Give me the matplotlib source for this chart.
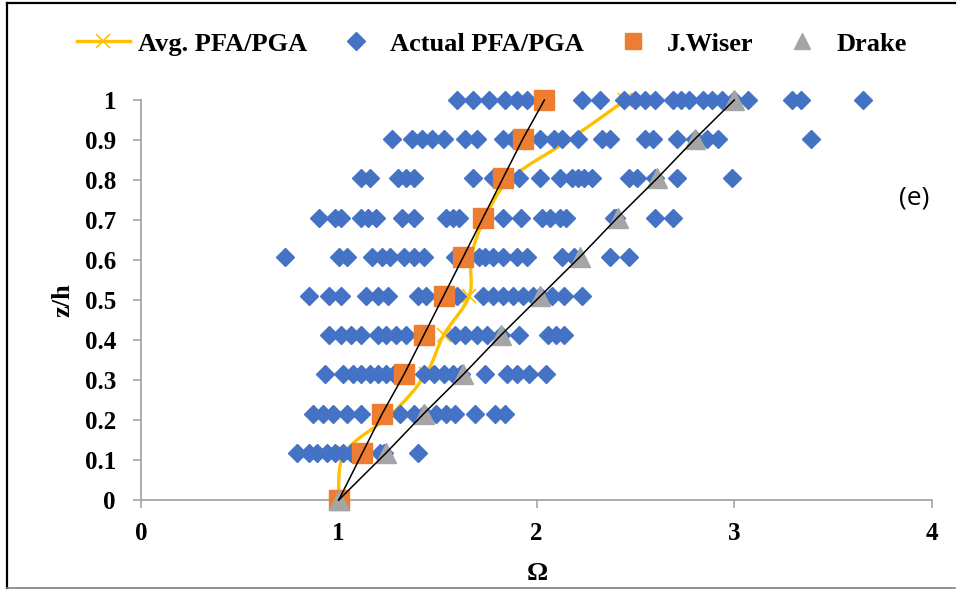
import matplotlib
matplotlib.use("Agg")
import matplotlib.pyplot as plt
from matplotlib.lines import Line2D
from matplotlib.path import Path
from matplotlib.patches import PathPatch
import numpy as np

# storey levels z/h
z = [0.0, 0.118, 0.216, 0.314, 0.412, 0.51, 0.608, 0.706, 0.804, 0.902, 1.0]

avg = [1.0, 1.03, 1.27, 1.44, 1.53, 1.66, 1.67, 1.74, 1.87, 2.17, 2.45]
wiser = [1.0, 1.12, 1.22, 1.33, 1.43, 1.53, 1.63, 1.73, 1.83, 1.93, 2.04]
drake = [1.0, 1.24, 1.43, 1.63, 1.82, 2.02, 2.22, 2.41, 2.61, 2.80, 3.0]

# actual PFA/PGA per level
actual = {
    0.0: [1.0],
    0.118: [0.79, 0.85, 0.89, 0.94, 0.98, 1.02, 1.06, 1.11, 1.21, 1.23, 1.40],
    0.216: [0.87, 0.92, 0.97, 1.04, 1.11, 1.22, 1.31, 1.38, 1.43, 1.49, 1.54,
            1.59, 1.69, 1.79, 1.84],
    0.314: [0.93, 1.02, 1.07, 1.11, 1.16, 1.20, 1.24, 1.28, 1.32, 1.43, 1.48,
            1.53, 1.58, 1.62, 1.74, 1.85, 1.90, 1.96, 2.05],
    0.412: [0.95, 1.01, 1.06, 1.11, 1.20, 1.24, 1.29, 1.34, 1.43, 1.59, 1.64,
            1.70, 1.75, 1.82, 1.91, 2.06, 2.10, 2.14],
    0.51: [0.85, 0.95, 1.01, 1.14, 1.20, 1.25, 1.40, 1.44, 1.53, 1.60, 1.73,
           1.78, 1.83, 1.88, 1.93, 1.98, 2.02, 2.08, 2.14, 2.23],
    0.608: [0.73, 1.0, 1.04, 1.17, 1.22, 1.26, 1.33, 1.38, 1.43, 1.59, 1.63,
            1.71, 1.74, 1.78, 1.83, 1.90, 1.95, 2.13, 2.19, 2.37, 2.47],
    0.706: [0.90, 0.98, 1.01, 1.11, 1.15, 1.19, 1.32, 1.38, 1.54, 1.58, 1.61,
            1.73, 1.83, 1.92, 2.03, 2.07, 2.12, 2.15, 2.39, 2.40, 2.60, 2.69],
    0.804: [1.11, 1.16, 1.30, 1.34, 1.38, 1.68, 1.78, 1.83, 1.91, 2.02, 2.12,
            2.18, 2.21, 2.24, 2.28, 2.47, 2.51, 2.60, 2.71, 2.99],
    0.902: [1.27, 1.37, 1.42, 1.47, 1.53, 1.64, 1.70, 1.83, 1.88, 2.02, 2.09,
            2.13, 2.21, 2.33, 2.37, 2.55, 2.59, 2.71, 2.80, 2.86, 2.92, 3.39],
    1.0: [1.60, 1.68, 1.76, 1.84, 1.90, 1.95, 2.03, 2.23, 2.32, 2.44, 2.50,
          2.55, 2.60, 2.69, 2.73, 2.77, 2.84, 2.89, 2.94, 3.0, 3.07, 3.29,
          3.34, 3.65],
}

x_ticks = [0, 1, 2, 3, 4]
y_ticks = [0, 0.1, 0.2, 0.3, 0.4, 0.5, 0.6, 0.7, 0.8, 0.9, 1.0]

c_avg = "#FFC000"
c_act = "#4472C4"
c_wis = "#ED7D31"
c_dra = "#A5A5A5"
c_axis = "#A6A6A6"

plt.rcParams["font.family"] = ["Liberation Serif", "DejaVu Serif"]
plt.rcParams["font.weight"] = "bold"

fig = plt.figure(figsize=(9.57, 5.9), dpi=100)
ax = fig.add_axes([141 / 957, 90 / 590, 791 / 957, 400 / 590])

# smoothed average line (bezier through the points, like Excel's smooth line)
P = np.column_stack([avg, z])
verts = [P[0]]
codes = [Path.MOVETO]
n = len(P)
for i in range(n - 1):
    p0 = P[i - 1] if i > 0 else P[i]
    p3 = P[i + 2] if i + 2 < n else P[i + 1]
    c1 = P[i] + (P[i + 1] - p0) / 6.0
    c2 = P[i + 1] - (p3 - P[i]) / 6.0
    verts += [c1, c2, P[i + 1]]
    codes += [Path.CURVE4] * 3
ax.add_patch(PathPatch(Path(verts, codes), facecolor="none", edgecolor=c_avg,
                       lw=2.4, zorder=2))
ax.plot(avg, z, ls="none", marker="x", ms=10, mew=1.2, color=c_avg, zorder=2)

xs, ys = [], []
for lev, vals in actual.items():
    xs += vals
    ys += [lev] * len(vals)
ax.plot(xs, ys, ls="none", marker="D", ms=9.5, color=c_act, zorder=3)

ax.plot(wiser, z, ls="none", marker="s", ms=14, color=c_wis, zorder=4)
ax.plot(drake, z, ls="none", marker="^", ms=15, color=c_dra, zorder=4)
ax.plot(wiser, z, color="black", lw=1.1, zorder=5)
ax.plot(drake, z, color="black", lw=1.1, zorder=5)

ax.set_xlim(0, 4)
ax.set_ylim(0, 1)
ax.set_xticks(x_ticks)
ax.set_yticks(y_ticks)
ax.set_xticklabels([str(v) for v in x_ticks])
ax.set_yticklabels(["0"] + [f"{v:g}" for v in y_ticks[1:]])
for s in ["top", "right"]:
    ax.spines[s].set_visible(False)
for s in ["left", "bottom"]:
    ax.spines[s].set_color(c_axis)
    ax.spines[s].set_linewidth(1.3)
    ax.spines[s].set_zorder(1)
ax.tick_params(axis="both", direction="out", length=6, width=1.2,
               color=c_axis, labelsize=18)
ax.tick_params(axis="y", pad=12)
ax.tick_params(axis="x", pad=10)
for art in ax.lines + ax.patches:
    art.set_clip_on(False)

fig.text(63 / 957, 1 - 300 / 590, "z/h", rotation=90, ha="center",
         va="center", fontsize=19, fontweight="bold")
fig.text(537 / 957, 1 - 573 / 590, "Ω", ha="center", va="center",
         fontsize=19, fontweight="bold")
fig.text(914 / 957, 1 - 198 / 590, "(e)", ha="center", va="center",
         fontsize=19, fontweight="normal", family=["Open Sans", "DejaVu Sans"])

handles = [
    Line2D([], [], color=c_avg, lw=2.4, marker="x", ms=10, mew=1.2),
    Line2D([], [], ls="none", marker="D", ms=9, color=c_act),
    Line2D([], [], ls="none", marker="s", ms=12, color=c_wis),
    Line2D([], [], ls="none", marker="^", ms=12, color=c_dra),
]
labels = ["Avg. PFA/PGA", "Actual PFA/PGA", "J.Wiser", "Drake"]
fig.legend(handles, labels, loc="center", ncol=4, frameon=False,
           bbox_to_anchor=(492 / 957, 1 - 44 / 590), fontsize=19,
           handlelength=2.0, handletextpad=0.3, columnspacing=0.85,
           numpoints=1)

# outer frame pieces
fig.add_artist(Line2D([7 / 957, 7 / 957], [2 / 590, 1 - 3 / 590],
                      color="black", lw=1.6, transform=fig.transFigure))
fig.add_artist(Line2D([7 / 957, 955 / 957], [1 - 3 / 590, 1 - 3 / 590],
                      color="black", lw=1.6, transform=fig.transFigure))
fig.add_artist(Line2D([7 / 957, 955 / 957], [2 / 590, 2 / 590],
                      color="#7F7F7F", lw=1.2, transform=fig.transFigure))

fig.savefig("out.png", dpi=100)
